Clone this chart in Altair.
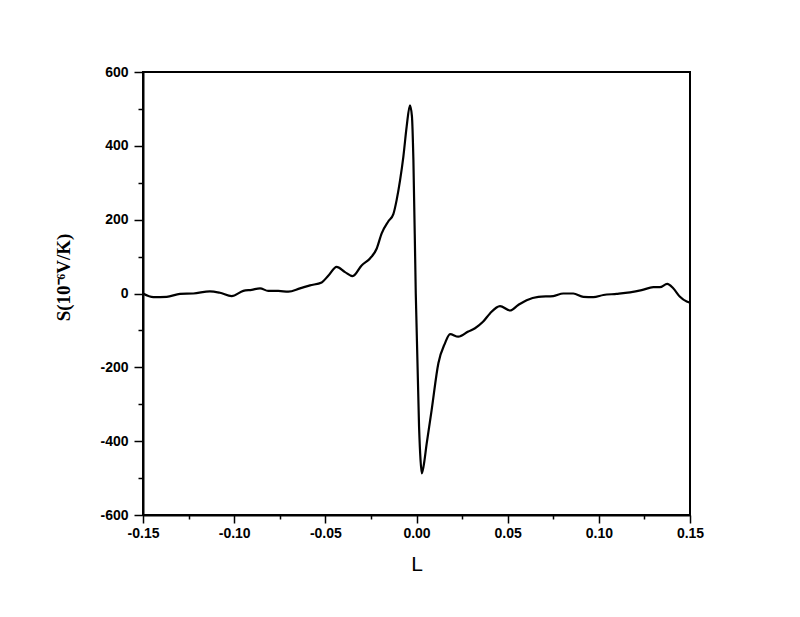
import altair as alt
import pandas as pd

L_vals = [-0.150, -0.1443, -0.137, -0.1297, -0.1224, -0.1133, -0.1078, -0.1014, -0.095, -0.0904,
          -0.0858, -0.0813, -0.0758, -0.0703, -0.0639, -0.0584, -0.052, -0.0484, -0.0438, -0.0392,
          -0.035, -0.0301, -0.0255, -0.0218, -0.0191, -0.0155, -0.0127, -0.0109, -0.009, -0.0072,
          -0.0054, -0.0036, -0.0025, -0.0017, -0.0004, 0.0014, 0.0022, 0.0029, 0.0038, 0.0056,
          0.0083, 0.012, 0.0156, 0.0184, 0.0229, 0.0284, 0.0321, 0.0366, 0.0403, 0.0458,
          0.0513, 0.0558, 0.0604, 0.0668, 0.075, 0.0805, 0.086, 0.0915, 0.097, 0.1025,
          0.1098, 0.1171, 0.1235, 0.1299, 0.1335, 0.1375, 0.1408, 0.1445, 0.1482, 0.150]
S_vals = [0, -10, -9, -1, 0, 6, 2, -7, 7, 10,
          14, 7, 7, 5, 14, 22, 30, 48, 72, 58,
          47, 76, 95, 122, 163, 195, 215, 253, 307, 371,
          452, 510, 480, 362, 0, -361, -450, -487, -470, -406,
          -316, -189, -135, -110, -117, -103, -94, -76, -54, -34,
          -46, -31, -18, -9, -7, 0, 0, -9, -10, -4,
          -1, 3, 9, 17, 17, 26, 14, -9, -22, -25]

x_major = [-0.15, -0.10, -0.05, 0.0, 0.05, 0.10, 0.15]
x_minor = [-0.125, -0.075, -0.025, 0.025, 0.075, 0.125]
y_major = [-600, -400, -200, 0, 200, 400, 600]
y_minor = [-500, -300, -100, 100, 300, 500]

df = pd.DataFrame({"L": L_vals, "S": S_vals})

xscale = alt.Scale(domain=[-0.15, 0.15], nice=False, zero=False)
yscale = alt.Scale(domain=[-600, 600], nice=False, zero=False)

label_font = "Liberation Sans"
hyphen = "replace(datum.label, '\u2212', '-')"

line = alt.Chart(df).mark_line(color="black", strokeWidth=2.2, interpolate="monotone").encode(
    x=alt.X("L:Q", scale=xscale,
            axis=alt.Axis(orient="bottom", values=x_major, format=".2f", labelExpr=hyphen, title="L",
                          tickSize=8, tickWidth=1.5, tickColor="black",
                          domainColor="black", domainWidth=2, labelFlush=False,
                          labelFont=label_font, labelFontSize=14, labelFontWeight="bold",
                          labelColor="black", labelPadding=3,
                          titleFont=label_font, titleFontSize=21, titleFontWeight="normal",
                          titleColor="black", titleY=49, titleBaseline="middle", grid=False)),
    y=alt.Y("S:Q", scale=yscale,
            axis=alt.Axis(orient="left", values=y_major, format="d", labelExpr=hyphen, title="S(10⁻⁶V/K)",
                          tickSize=9, tickWidth=1.5, tickColor="black",
                          domainColor="black", domainWidth=2, labelFlush=False,
                          labelFont=label_font, labelFontSize=14, labelFontWeight="bold",
                          labelColor="black", labelPadding=6,
                          titleFont="Liberation Serif", titleFontSize=19, titleFontWeight="bold",
                          titleColor="black", titleX=-80, titleY=205, titleBaseline="middle",
                          titleAngle=270, grid=False)),
)

minor = alt.Chart(df).mark_point(opacity=0).encode(
    x=alt.X("L:Q", scale=xscale,
            axis=alt.Axis(orient="bottom", values=x_minor, labels=False, title=None,
                          tickSize=4, tickWidth=1.5, tickColor="black", domain=False, grid=False)),
    y=alt.Y("S:Q", scale=yscale,
            axis=alt.Axis(orient="left", values=y_minor, labels=False, title=None,
                          tickSize=5, tickWidth=1.5, tickColor="black", domain=False, grid=False)),
)

chart = alt.layer(line, minor).resolve_axis(x="independent", y="independent").properties(
    width=547, height=443,
    autosize=alt.AutoSizeParams(type="none"),
    padding={"left": 135, "top": 64, "right": 102, "bottom": 94},
    background="white",
).configure_view(stroke="black", strokeWidth=2)

chart.save("out.html", embed_options={"renderer": "svg", "actions": False})
